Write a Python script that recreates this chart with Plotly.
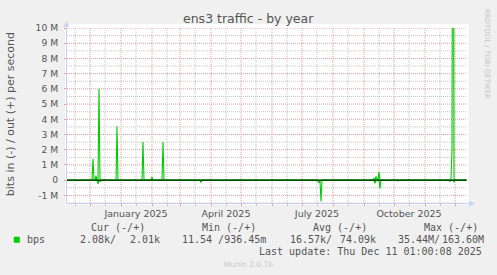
import plotly.graph_objects as go

# ---------------- data (bits per second, daily averages) ----------------
out_dates = ["2024-11-08", "2024-12-03", "2024-12-04", "2024-12-05", "2024-12-06",
             "2024-12-07", "2024-12-08", "2024-12-09", "2024-12-10", "2024-12-11",
             "2024-12-27", "2024-12-28", "2024-12-29", "2025-01-22", "2025-01-23",
             "2025-01-24", "2025-01-31", "2025-02-01", "2025-02-02", "2025-02-11",
             "2025-02-12", "2025-02-13", "2025-09-10", "2025-09-11", "2025-09-12",
             "2025-09-13", "2025-09-14", "2025-09-15", "2025-09-16", "2025-09-17",
             "2025-11-26", "2025-11-27", "2025-11-28", "2025-11-29", "2025-11-30",
             "2025-12-12"]
out_bps = [0, 0, 1.4e6, 0.05e6, 0, 0.3e6, 0.02e6, 0, 6.0e6, 0,
           0, 3.55e6, 0, 0, 2.5e6,
           0, 0, 0.2e6, 0, 0,
           2.5e6, 0, 0, 0.15e6, 0,
           0.25e6, 0.1e6, 0, 0.55e6, 0,
           0, 0.1e6, 2.0e6, 35.4e6, 0,
           0]

in_dates = ["2024-11-08", "2024-11-18", "2024-11-19", "2024-11-20", "2024-12-08",
            "2024-12-09", "2024-12-10", "2024-12-11", "2024-12-12", "2024-12-13",
            "2025-01-17", "2025-01-18", "2025-01-19", "2025-03-15", "2025-03-16",
            "2025-03-17", "2025-03-21", "2025-03-22", "2025-03-23", "2025-04-12",
            "2025-04-13", "2025-04-14", "2025-04-19", "2025-04-20", "2025-04-21",
            "2025-05-24", "2025-05-25", "2025-05-26", "2025-06-11", "2025-06-12",
            "2025-06-13", "2025-07-16", "2025-07-17", "2025-07-18", "2025-07-19",
            "2025-07-20", "2025-07-21", "2025-09-11", "2025-09-12", "2025-09-13",
            "2025-09-16", "2025-09-17", "2025-09-18", "2025-09-23", "2025-09-24",
            "2025-09-25", "2025-10-04", "2025-10-05", "2025-10-06", "2025-11-25",
            "2025-11-26", "2025-11-27", "2025-11-29", "2025-11-30", "2025-12-01",
            "2025-12-12"]
in_bps = [0, 0, 0.05e6, 0, 0,
          0.25e6, 0.03e6, 0.08e6, 0.05e6, 0,
          0, 0.05e6, 0, 0, 0.05e6,
          0, 0, 0.15e6, 0, 0,
          0.05e6, 0, 0, 0.05e6, 0,
          0, 0.04e6, 0, 0, 0.04e6,
          0, 0, 0.1e6, 0.15e6, 0,
          1.4e6, 0, 0, 0.2e6, 0,
          0, 0.55e6, 0, 0, 0.05e6,
          0, 0, 0.06e6, 0, 0,
          0.08e6, 0, 0, 0.12e6, 0,
          0]

y_tickvals = [-1e6, 0, 1e6, 2e6, 3e6, 4e6, 5e6, 6e6, 7e6, 8e6, 9e6, 10e6]
y_ticktext = ["-1 M", "0", "1 M", "2 M", "3 M", "4 M", "5 M", "6 M", "7 M", "8 M", "9 M", "10 M"]
y_minor_vals = [-1.5e6, -0.5e6, 0.5e6, 1.5e6, 2.5e6, 3.5e6, 4.5e6, 5.5e6, 6.5e6,
                7.5e6, 8.5e6, 9.5e6]

month_starts = ["2024-12-01", "2025-01-01", "2025-02-01", "2025-03-01", "2025-04-01",
                "2025-05-01", "2025-06-01", "2025-07-01", "2025-08-01", "2025-09-01",
                "2025-10-01", "2025-11-01", "2025-12-01"]
mid_months = ["2024-11-16", "2024-12-16", "2025-01-16", "2025-02-16", "2025-03-16",
              "2025-04-16", "2025-05-16", "2025-06-16", "2025-07-16", "2025-08-16",
              "2025-09-16", "2025-10-16", "2025-11-16"]
x_label_dates = ["2025-01-16", "2025-04-16", "2025-07-16", "2025-10-16"]
x_label_text = ["January 2025", "April 2025", "July 2025", "October 2025"]

legend_headers = ["Cur (-/+)", "Min (-/+)", "Avg (-/+)", "Max (-/+)"]
legend_name = "bps"
cur_vals = ["2.08k", "2.01k"]
min_vals = ["11.54 ", "936.45m"]
avg_vals = ["16.57k", "74.09k"]
max_vals = ["35.44M", "163.60M"]
last_update = "Last update: Thu Dec 11 01:00:08 2025"

# ---------------- layout helpers ----------------
W_PX, H_PX = 497, 275
L, T, PW, PH = 67, 28, 400, 175
GREEN = "#00CC00"
AXIS = "#C9D1F7"
TXT = "#555555"
RED_GRID = "#E99A9A"
GREY_GRID = "#C4C4C4"
DOT = "1px,1px"


def px(x):
    return (x - L) / PW


def py(y):
    return (T + PH - y) / PH


label_map = dict(zip(x_label_dates, x_label_text))
x_ticktext = [label_map.get(d, "") for d in mid_months]

fig = go.Figure()
fig.add_trace(go.Scatter(x=out_dates, y=out_bps, mode="lines",
                         line=dict(color=GREEN, width=1.1), hoverinfo="skip"))
fig.add_trace(go.Scatter(x=in_dates, y=[-v for v in in_bps], mode="lines",
                         line=dict(color=GREEN, width=1.1), hoverinfo="skip"))

fig.update_layout(
    width=W_PX, height=H_PX,
    margin=dict(l=L, r=W_PX - L - PW, t=T, b=H_PX - T - PH, pad=0),
    paper_bgcolor="#F0F0F0", plot_bgcolor="white",
    showlegend=False,
    font=dict(family="DejaVu Sans", color=TXT),
)

fig.update_xaxes(
    type="date", range=["2024-11-08", "2025-12-13"],
    tickmode="array", tickvals=mid_months, ticktext=x_ticktext,
    tickfont=dict(family="DejaVu Sans", size=9.5, color=TXT),
    showgrid=False,
    ticks="outside", ticklen=2, tickcolor=GREY_GRID,
    minor=dict(tickmode="array", tickvals=month_starts, showgrid=False,
               ticks="outside", ticklen=2, tickcolor=RED_GRID),
    showline=False, zeroline=False, fixedrange=True,
)
fig.update_yaxes(
    range=[-1.5e6, 10e6],
    tickmode="array", tickvals=y_tickvals, ticktext=y_ticktext,
    tickfont=dict(family="DejaVu Sans", size=9.2, color=TXT),
    showgrid=False,
    ticks="outside", ticklen=2, tickcolor=RED_GRID,
    ticklabelstandoff=4,
    showline=False, zeroline=False, fixedrange=True,
)


def white_strip(x0, x1, y0, y1):
    return dict(type="rect", xref="paper", yref="paper", x0=px(x0), x1=px(x1),
                y0=py(y1), y1=py(y0), fillcolor="white", line=dict(width=0),
                layer="below")


shapes = [
    white_strip(65, 468.5, 24, T),
    white_strip(65, 468.5, T + PH, 204.5),
    white_strip(65, L, 24, 204.5),
    white_strip(L + PW, 468.5, 24, 204.5),
]
# grid lines
for d in mid_months:
    shapes.append(dict(type="line", xref="x", yref="paper", x0=d, x1=d, y0=0, y1=1,
                       line=dict(color=GREY_GRID, width=1, dash=DOT), layer="below"))
for d in month_starts:
    shapes.append(dict(type="line", xref="x", yref="paper", x0=d, x1=d, y0=0, y1=1,
                       line=dict(color=RED_GRID, width=1, dash=DOT), layer="below"))
for v in y_minor_vals:
    shapes.append(dict(type="line", xref="paper", yref="y", x0=0, x1=1, y0=v, y1=v,
                       line=dict(color=GREY_GRID, width=1, dash=DOT), layer="below"))
for v in y_tickvals:
    shapes.append(dict(type="line", xref="paper", yref="y", x0=0, x1=1, y0=v, y1=v,
                       line=dict(color=RED_GRID, width=1, dash=DOT), layer="below"))

shapes += [
    # zero line on top
    dict(type="line", xref="paper", yref="y", x0=0, x1=1, y0=0, y1=0,
         line=dict(color="black", width=1), layer="above"),
    # axes
    dict(type="line", xref="paper", yref="paper", x0=px(66.5), x1=px(66.5),
         y0=py(203.5), y1=py(25), line=dict(color=AXIS, width=1), layer="above"),
    dict(type="line", xref="paper", yref="paper", x0=px(66.5), x1=px(470),
         y0=py(203.5), y1=py(203.5), line=dict(color=AXIS, width=1), layer="above"),
    dict(type="path", xref="paper", yref="paper",
         path=f"M {px(64)} {py(26.5)} L {px(69)} {py(26.5)} L {px(66.5)} {py(21.5)} Z",
         fillcolor=AXIS, line=dict(color=AXIS, width=0.5), layer="above"),
    dict(type="path", xref="paper", yref="paper",
         path=f"M {px(469.5)} {py(201)} L {px(469.5)} {py(206)} L {px(474.5)} {py(203.5)} Z",
         fillcolor=AXIS, line=dict(color=AXIS, width=0.5), layer="above"),
    # legend colour box
    dict(type="rect", xref="paper", yref="paper", x0=px(14), x1=px(19.5),
         y0=py(242.5), y1=py(237), fillcolor=GREEN, line=dict(color=GREEN, width=0.5)),
]
fig.update_layout(shapes=shapes)

MONO = "DejaVu Sans Mono"
ann = []


def add_text(text, x, y, size=10, family=MONO, color=TXT, xanchor="left", angle=0):
    ann.append(dict(text=text, x=px(x), y=py(y), xref="paper", yref="paper",
                    xanchor=xanchor, yanchor="middle", showarrow=False,
                    textangle=angle, borderpad=0,
                    font=dict(family=family, size=size, color=color)))


add_text("ens3 traffic - by year", 248, 18.5, size=12.5, family="DejaVu Sans",
         color="#555555", xanchor="center")
add_text("bits in (-) / out (+) per second", 10.5, 114.7, size=11,
         family="DejaVu Sans", xanchor="center", angle=-90)
add_text("RRDTOOL / TOBI OETIKER", 487.7, 53.5, size=7, family="DejaVu Sans",
         color="#C4C4C4", xanchor="center", angle=90)

header_x = [90, 200.7, 312.3, 423.3]
for h, hx in zip(legend_headers, header_x):
    add_text(h, hx, 227.7)

row_y = 239.5
add_text(legend_name, 26.2, row_y)
add_text(cur_vals[0] + "/", 78.5, row_y)
add_text(cur_vals[1], 128.5, row_y)
add_text(min_vals[0] + "/" + min_vals[1], 180.5, row_y)
add_text(avg_vals[0] + "/", 288.8, row_y)
add_text(avg_vals[1], 338.8, row_y)
add_text(max_vals[0] + "/", 396.8, row_y)
add_text(max_vals[1], 440.8, row_y)
add_text(last_update, 482.8, 251.2, xanchor="right")
add_text("Munin 2.0.76", 248, 264.2, size=7.5, family="DejaVu Sans",
         color="#C8C8C8", xanchor="center")

fig.update_layout(annotations=ann)

fig.write_html("out.html")
